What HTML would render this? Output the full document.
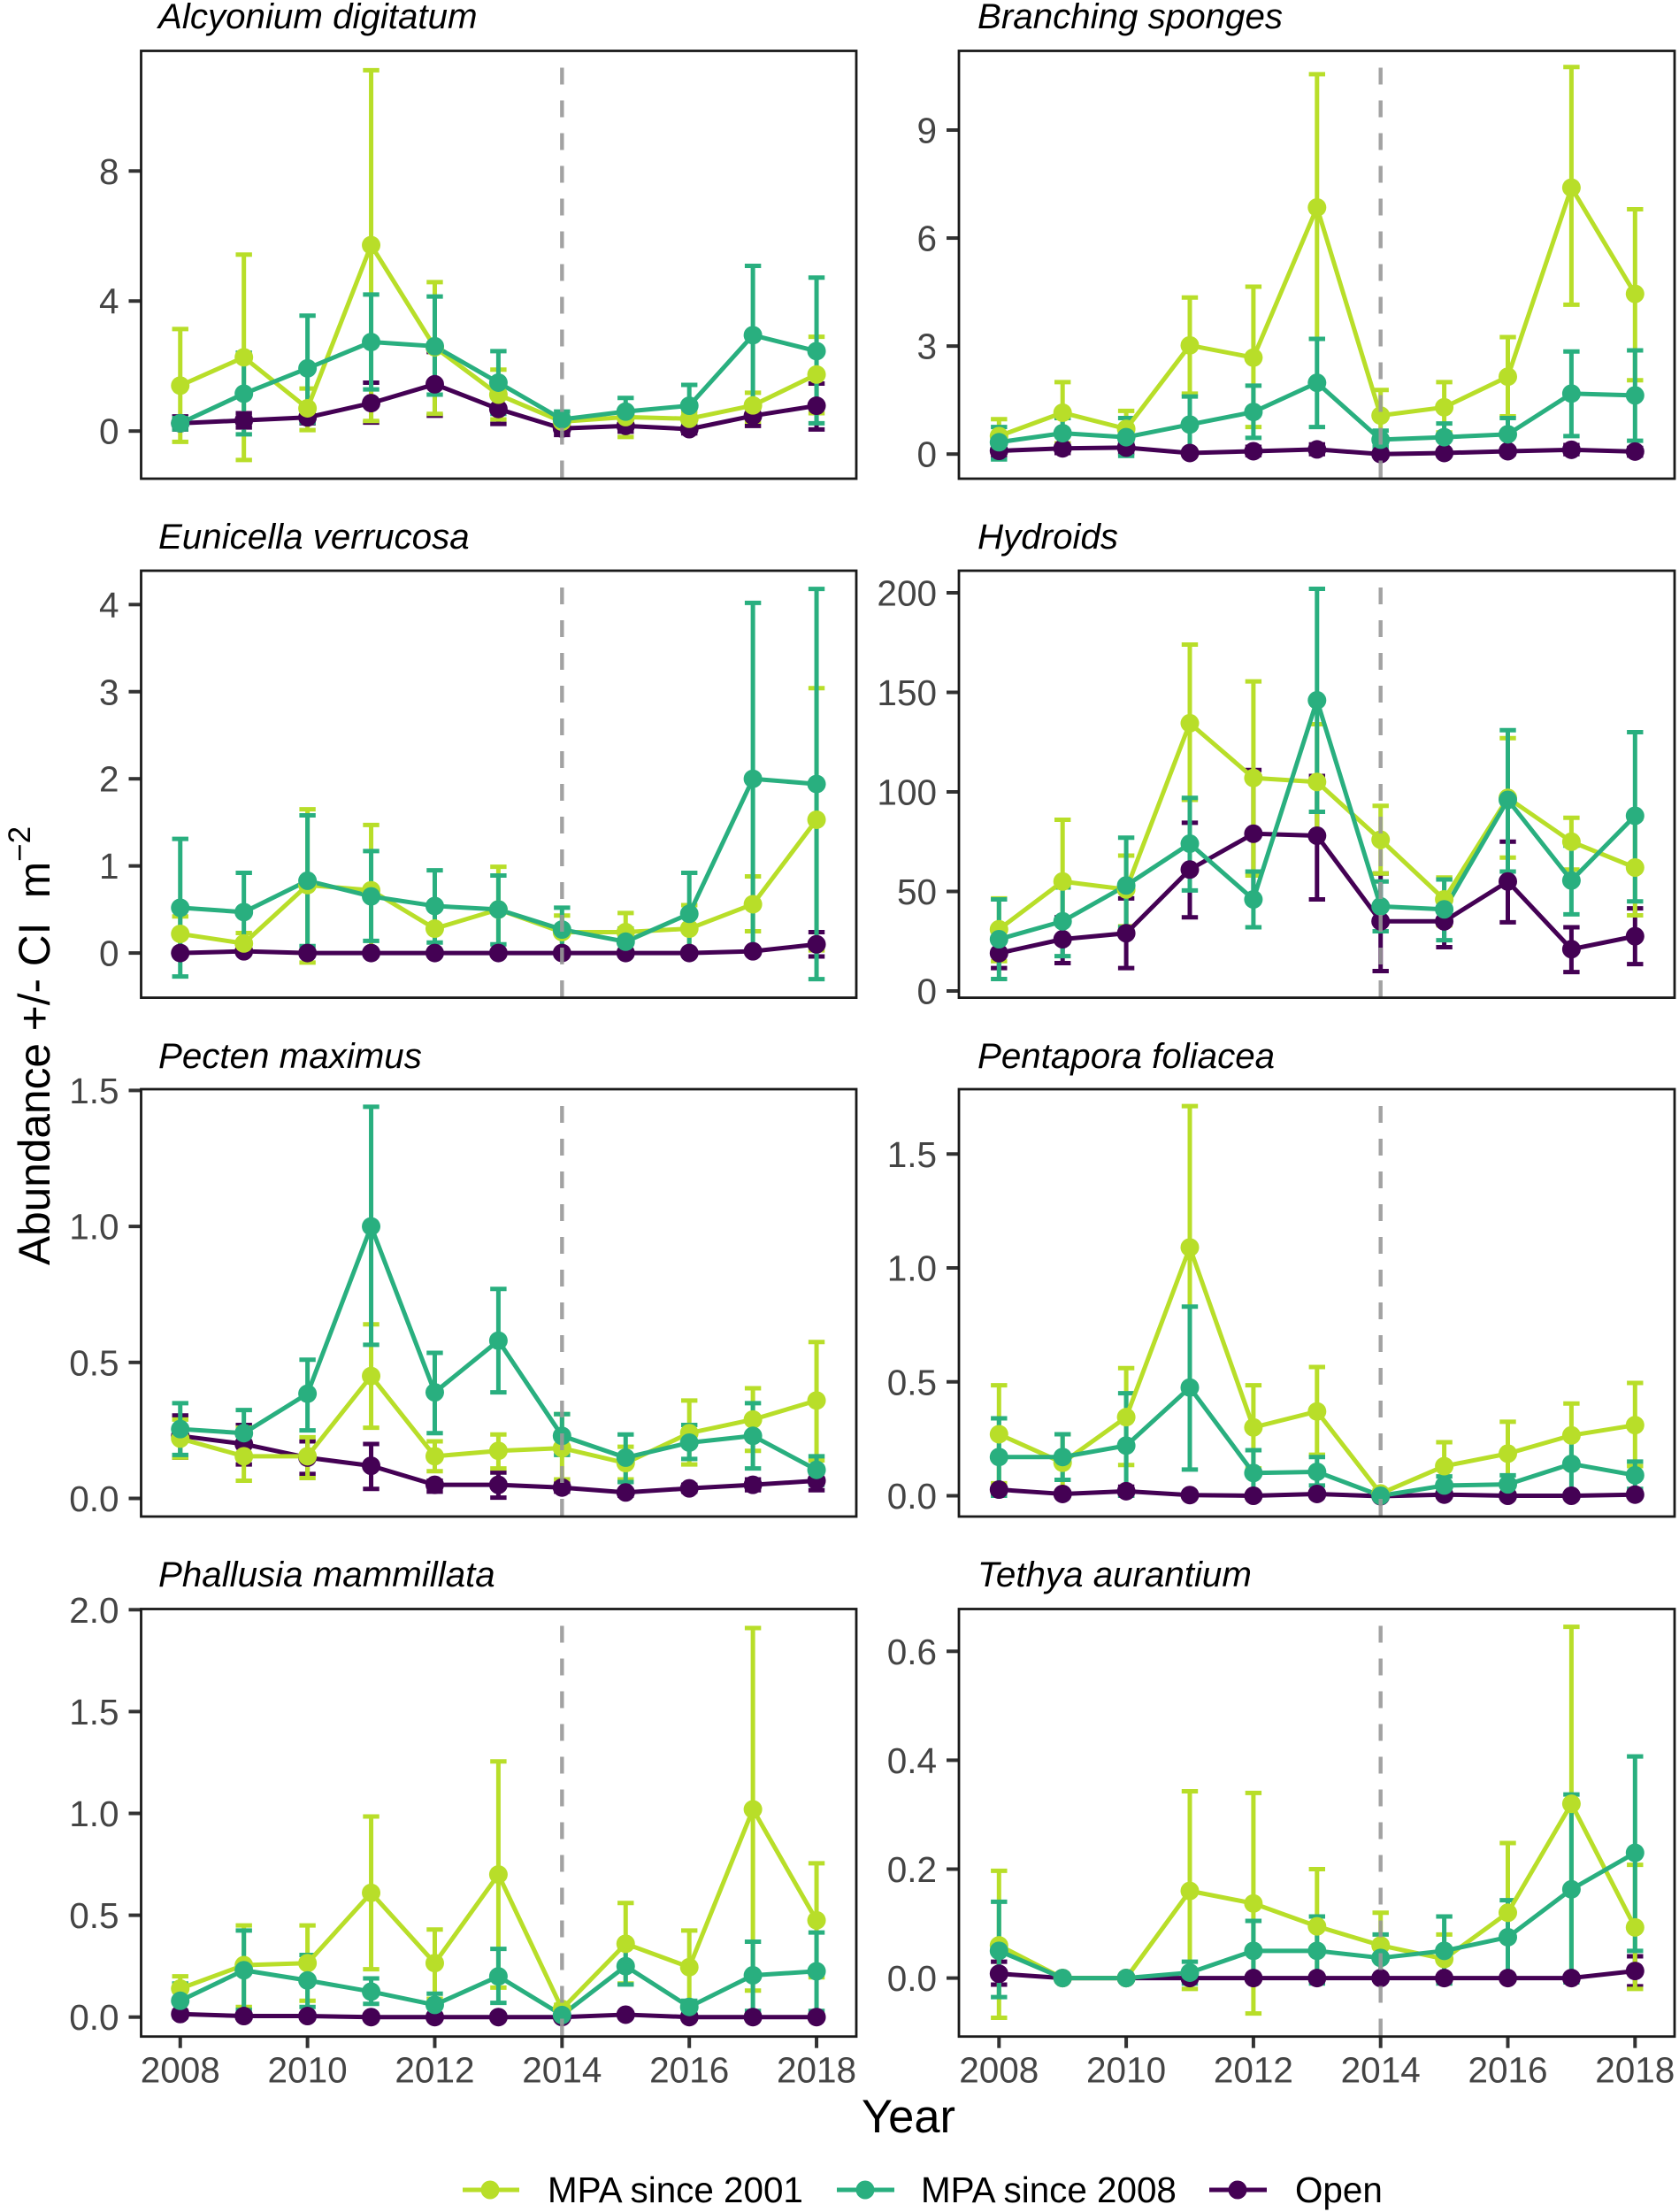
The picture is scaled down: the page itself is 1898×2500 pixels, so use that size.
<!DOCTYPE html>
<html lang="en">
<head>
<meta charset="utf-8">
<title>Abundance by year and protection status</title>
<style>
html,body{margin:0;padding:0;background:#fff;}
svg{display:block;font-family:"Liberation Sans",Arial,sans-serif;}
</style>
</head>
<body>
<svg id="chart" xmlns="http://www.w3.org/2000/svg" width="1898" height="2500" viewBox="0 0 1898 2500">
  <rect x="0" y="0" width="1898" height="2500" fill="#ffffff"/>
  <g id="panels"></g>
  <g font-style="italic" font-size="40.3" fill="#000000">
    <text x="179" y="32">Alcyonium digitatum</text>
    <text x="1105" y="32">Branching sponges</text>
    <text x="179" y="620">Eunicella verrucosa</text>
    <text x="1105" y="620">Hydroids</text>
    <text x="179" y="1207">Pecten maximus</text>
    <text x="1105" y="1207">Pentapora foliacea</text>
    <text x="179" y="1793">Phallusia mammillata</text>
    <text x="1105" y="1793">Tethya aurantium</text>
  </g>
  <text transform="translate(56,1430) rotate(-90)" font-size="49.6" fill="#000000">Abundance +/- CI&#160;&#160;m<tspan dy="-22" font-size="35">&#8722;2</tspan></text>
  <text x="1027" y="2410" text-anchor="middle" font-size="52.5" fill="#000000">Year</text>
  <g>
    <g>
      <line x1="523" y1="2475" x2="587" y2="2475" stroke="#B8DE29" stroke-width="5"/>
      <circle cx="554" cy="2475" r="10.5" fill="#B8DE29"/>
      <text x="619" y="2489" font-size="40.4" fill="#000000">MPA since 2001</text>
    </g>
    <g>
      <line x1="946" y1="2475" x2="1011" y2="2475" stroke="#29AF7F" stroke-width="5"/>
      <circle cx="978" cy="2475" r="10.5" fill="#29AF7F"/>
      <text x="1041" y="2489" font-size="40.4" fill="#000000">MPA since 2008</text>
    </g>
    <g>
      <line x1="1367" y1="2475" x2="1432" y2="2475" stroke="#440154" stroke-width="5"/>
      <circle cx="1399" cy="2475" r="10.5" fill="#440154"/>
      <text x="1464" y="2489" font-size="40.4" fill="#000000">Open</text>
    </g>
  </g>
</svg>
<script>
const years = [2008,2009,2010,2011,2012,2013,2014,2015,2016,2017,2018];
const xTickYears = [2008,2010,2012,2014,2016,2018];

// Alcyonium digitatum
const alcyoniumTicks = [0,4,8];
const alcyonium2001Mean = [1.40,2.27,0.70,5.72,2.58,1.12,0.29,0.43,0.38,0.79,1.74];
const alcyonium2001Hi = [3.14,5.43,1.31,11.1,4.58,1.89,0.45,0.60,0.60,1.18,2.90];
const alcyonium2001Lo = [-0.33,-0.89,0.03,0.31,0.53,0.36,0.08,-0.18,0.14,0.29,0.55];
const alcyonium2008Mean = [0.24,1.15,1.93,2.74,2.61,1.49,0.36,0.60,0.78,2.95,2.46];
const alcyonium2008Hi = [0.40,2.41,3.55,4.20,4.14,2.46,0.60,1.02,1.42,5.08,4.72];
const alcyonium2008Lo = [0.05,-0.10,0.26,1.28,1.12,0.53,0.16,0.19,0.19,0.82,0.24];
const alcyoniumOpenMean = [0.24,0.33,0.42,0.86,1.44,0.68,0.08,0.16,0.06,0.47,0.78];
const alcyoniumOpenHi = [0.45,0.55,0.62,1.49,2.43,1.12,0.24,0.24,0.19,0.71,1.46];
const alcyoniumOpenLo = [0.05,0.11,0.24,0.26,0.47,0.22,-0.12,-0.02,-0.07,0.16,0.05];

// Branching sponges
const spongesTicks = [0,3,6,9];
const sponges2001Mean = [0.50,1.15,0.70,3.02,2.68,6.85,1.07,1.30,2.15,7.40,4.45];
const sponges2001Hi = [0.97,2.00,1.20,4.35,4.65,10.55,1.78,2.00,3.25,10.75,6.80];
const sponges2001Lo = [0.05,0.30,0.20,1.68,0.75,3.20,0.35,0.60,1.05,4.15,2.05];
const sponges2008Mean = [0.33,0.58,0.47,0.82,1.17,1.98,0.40,0.47,0.55,1.68,1.63];
const sponges2008Hi = [0.75,1.00,1.00,1.60,1.90,3.20,0.65,0.85,1.00,2.85,2.88];
const sponges2008Lo = [-0.15,0.20,-0.05,0.05,0.45,0.75,0.20,0.10,0.15,0.50,0.37];
const spongesOpenMean = [0.09,0.16,0.18,0.03,0.08,0.13,0.00,0.03,0.08,0.12,0.07];
const spongesOpenHi = [0.25,0.30,0.30,0.08,0.20,0.27,0.03,0.10,0.15,0.25,0.17];
const spongesOpenLo = [-0.10,0.03,0.03,-0.03,-0.03,0.00,-0.03,-0.03,0.00,0.00,-0.04];

// Eunicella verrucosa
const eunicellaTicks = [0,1,2,3,4];
const eunicella2001Mean = [0.22,0.11,0.78,0.72,0.28,0.50,0.24,0.24,0.28,0.56,1.53];
const eunicella2001Hi = [0.42,0.23,1.65,1.47,0.55,0.99,0.43,0.46,0.55,0.88,3.04];
const eunicella2001Lo = [0.03,0.00,-0.11,0.00,0.01,0.01,0.03,0.03,0.00,0.25,0.03];
const eunicella2008Mean = [0.52,0.47,0.83,0.65,0.54,0.50,0.27,0.13,0.45,2.00,1.94];
const eunicella2008Hi = [1.31,0.92,1.58,1.17,0.95,0.89,0.52,0.28,0.92,4.02,4.18];
const eunicella2008Lo = [-0.27,0.00,0.08,0.14,0.12,0.10,0.02,0.02,-0.02,0.00,-0.30];
const eunicellaOpenMean = [0.00,0.02,0.00,0.00,0.00,0.00,0.00,0.00,0.00,0.02,0.10];
const eunicellaOpenHi = [0.02,0.03,0.01,0.01,0.01,0.01,0.01,0.01,0.01,0.03,0.24];
const eunicellaOpenLo = [-0.02,0.01,-0.01,-0.01,-0.01,-0.01,-0.01,-0.01,-0.01,0.00,-0.04];

// Hydroids
const hydroidsTicks = [0,50,100,150,200];
const hydroids2001Mean = [31,55,51,134.5,107,105,76,46,97,75,62];
const hydroids2001Hi = [46.5,86,68,174,155.5,134,93,57,127,87,86.5];
const hydroids2001Lo = [15,25,32.5,96,58,77,59,33,67,61,38];
const hydroids2008Mean = [26,35,53,74,46,146,42.5,41,96,55.5,88];
const hydroids2008Hi = [46,52,77,97,60,202,55,56,131,73,130];
const hydroids2008Lo = [6,17.5,32,50.5,32,90,30,25.5,60,38.5,45];
const hydroidsOpenMean = [19,26,29,61,79,78,35,35,55,21,27.5];
const hydroidsOpenHi = [25.5,37,46.5,84.5,111,108,59,48,75,32,41.5];
const hydroidsOpenLo = [11.5,14,11.5,37,46,46,10,22,34.5,9.5,13.5];

// Pecten maximus
const pectenTicks = [0,0.5,1,1.5];
const pecten2001Mean = [0.22,0.155,0.155,0.45,0.155,0.175,0.185,0.13,0.24,0.29,0.36];
const pecten2001Hi = [0.29,0.26,0.225,0.64,0.21,0.235,0.31,0.19,0.36,0.405,0.575];
const pecten2001Lo = [0.15,0.065,0.075,0.26,0.10,0.11,0.07,0.07,0.125,0.175,0.14];
const pecten2008Mean = [0.255,0.24,0.385,1.00,0.39,0.58,0.23,0.15,0.205,0.23,0.105];
const pecten2008Hi = [0.35,0.325,0.51,1.44,0.535,0.77,0.31,0.235,0.27,0.35,0.155];
const pecten2008Lo = [0.16,0.16,0.25,0.565,0.24,0.39,0.16,0.06,0.145,0.11,0.05];
const pectenOpenMean = [0.23,0.20,0.15,0.12,0.05,0.05,0.04,0.022,0.037,0.05,0.065];
const pectenOpenHi = [0.305,0.27,0.21,0.20,0.065,0.095,0.055,0.03,0.05,0.07,0.095];
const pectenOpenLo = [0.15,0.125,0.09,0.035,0.025,0.003,0.025,0.01,0.025,0.03,0.03];

// Pentapora foliacea
const pentaporaTicks = [0,0.5,1,1.5];
const pentapora2001Mean = [0.27,0.145,0.345,1.09,0.30,0.37,0.01,0.13,0.185,0.265,0.31];
const pentapora2001Hi = [0.485,0.27,0.56,1.71,0.485,0.565,0.025,0.235,0.325,0.405,0.495];
const pentapora2001Lo = [0.055,0.02,0.135,0.48,0.12,0.18,0.00,0.035,0.05,0.125,0.13];
const pentapora2008Mean = [0.17,0.17,0.22,0.475,0.10,0.105,0.00,0.045,0.05,0.14,0.09];
const pentapora2008Hi = [0.34,0.27,0.45,0.83,0.20,0.17,0.00,0.085,0.09,0.27,0.15];
const pentapora2008Lo = [0.00,0.07,0.00,0.115,0.00,0.045,0.00,0.005,0.01,0.01,0.03];
const pentaporaOpenMean = [0.027,0.008,0.02,0.003,0.00,0.008,-0.002,0.005,0.00,0.00,0.005];
const pentaporaOpenHi = [0.035,0.015,0.04,0.008,0.003,0.015,0.00,0.01,0.002,0.002,0.012];
const pentaporaOpenLo = [0.01,0.001,0.00,0.00,-0.001,0.001,-0.003,0.00,-0.001,-0.001,0.00];

// Phallusia mammillata
const phallusiaTicks = [0,0.5,1,1.5,2];
const phallusia2001Mean = [0.14,0.255,0.265,0.61,0.265,0.70,0.04,0.36,0.245,1.02,0.475];
const phallusia2001Hi = [0.20,0.45,0.45,0.985,0.43,1.255,0.06,0.56,0.425,1.91,0.755];
const phallusia2001Lo = [0.08,0.05,0.08,0.235,0.09,0.145,0.01,0.165,0.06,0.13,0.195];
const phallusia2008Mean = [0.08,0.23,0.18,0.125,0.06,0.20,0.01,0.25,0.05,0.205,0.225];
const phallusia2008Hi = [0.165,0.425,0.305,0.19,0.115,0.335,0.03,0.345,0.08,0.37,0.415];
const phallusia2008Lo = [0.00,0.035,0.05,0.065,0.00,0.07,0.00,0.16,0.015,0.03,0.03];
const phallusiaOpenMean = [0.015,0.005,0.005,0.00,0.00,0.00,0.00,0.012,0.00,0.00,0.00];
const phallusiaOpenHi = [0.03,0.008,0.007,0.002,0.001,0.001,0.001,0.02,0.001,0.001,0.001];
const phallusiaOpenLo = [0.00,0.002,0.003,-0.001,-0.001,-0.001,-0.001,0.004,-0.001,-0.001,-0.001];

// Tethya aurantium
const tethyaTicks = [0,0.2,0.4,0.6];
const tethya2001Mean = [0.06,0.00,0.00,0.16,0.137,0.095,0.06,0.035,0.12,0.32,0.093];
const tethya2001Hi = [0.197,0.00,0.00,0.343,0.34,0.20,0.12,0.08,0.248,0.645,0.208];
const tethya2001Lo = [-0.073,0.00,0.00,-0.02,-0.065,-0.005,0.00,-0.005,-0.002,-0.005,-0.02];
const tethya2008Mean = [0.05,0.00,0.00,0.01,0.05,0.05,0.037,0.05,0.075,0.163,0.23];
const tethya2008Hi = [0.14,0.00,0.00,0.03,0.105,0.113,0.08,0.113,0.143,0.337,0.407];
const tethya2008Lo = [-0.035,0.00,0.00,-0.01,0.00,-0.01,0.00,-0.01,0.00,-0.008,0.05];
const tethyaOpenMean = [0.008,0.00,0.00,0.00,0.00,0.00,0.00,0.00,0.00,0.00,0.013];
const tethyaOpenHi = [0.03,0.00,0.00,0.00,0.00,0.00,0.00,0.00,0.00,0.00,0.04];
const tethyaOpenLo = [-0.012,0.00,0.00,0.00,0.00,0.00,0.00,0.00,0.00,0.00,-0.015];

const COLOR_2001 = '#B8DE29';
const COLOR_2008 = '#29AF7F';
const COLOR_OPEN = '#440154';

function seriesTriple(slug, open, s2001, s2008) {
  return [
    {slug: slug + '-open', color: COLOR_OPEN, mean: open[0], hi: open[1], lo: open[2]},
    {slug: slug + '-mpa-2001', color: COLOR_2001, mean: s2001[0], hi: s2001[1], lo: s2001[2]},
    {slug: slug + '-mpa-2008', color: COLOR_2008, mean: s2008[0], hi: s2008[1], lo: s2008[2]}
  ];
}

const LEFT_COL = {left: 159.5, right: 968, x2008: 203.75, xStep: 71.93};
const RIGHT_COL = {left: 1084, right: 1893, x2008: 1129.3, xStep: 71.9};

const panels = [
  {slug:'alcyonium', col:LEFT_COL, top:57.5, bottom:541, zero:487.2, unit:36.74, ticks:alcyoniumTicks, digits:0, xAxis:false,
   series:seriesTriple('alcyonium',[alcyoniumOpenMean,alcyoniumOpenHi,alcyoniumOpenLo],[alcyonium2001Mean,alcyonium2001Hi,alcyonium2001Lo],[alcyonium2008Mean,alcyonium2008Hi,alcyonium2008Lo])},
  {slug:'sponges', col:RIGHT_COL, top:57.5, bottom:541, zero:513.2, unit:40.69, ticks:spongesTicks, digits:0, xAxis:false,
   series:seriesTriple('sponges',[spongesOpenMean,spongesOpenHi,spongesOpenLo],[sponges2001Mean,sponges2001Hi,sponges2001Lo],[sponges2008Mean,sponges2008Hi,sponges2008Lo])},
  {slug:'eunicella', col:LEFT_COL, top:645, bottom:1127.6, zero:1077.1, unit:98.45, ticks:eunicellaTicks, digits:0, xAxis:false,
   series:seriesTriple('eunicella',[eunicellaOpenMean,eunicellaOpenHi,eunicellaOpenLo],[eunicella2001Mean,eunicella2001Hi,eunicella2001Lo],[eunicella2008Mean,eunicella2008Hi,eunicella2008Lo])},
  {slug:'hydroids', col:RIGHT_COL, top:645, bottom:1127.6, zero:1120, unit:2.25, ticks:hydroidsTicks, digits:0, xAxis:false,
   series:seriesTriple('hydroids',[hydroidsOpenMean,hydroidsOpenHi,hydroidsOpenLo],[hydroids2001Mean,hydroids2001Hi,hydroids2001Lo],[hydroids2008Mean,hydroids2008Hi,hydroids2008Lo])},
  {slug:'pecten', col:LEFT_COL, top:1231, bottom:1714, zero:1693.5, unit:307.4, ticks:pectenTicks, digits:1, xAxis:false,
   series:seriesTriple('pecten',[pectenOpenMean,pectenOpenHi,pectenOpenLo],[pecten2001Mean,pecten2001Hi,pecten2001Lo],[pecten2008Mean,pecten2008Hi,pecten2008Lo])},
  {slug:'pentapora', col:RIGHT_COL, top:1231, bottom:1714, zero:1690.5, unit:257.5, ticks:pentaporaTicks, digits:1, xAxis:false,
   series:seriesTriple('pentapora',[pentaporaOpenMean,pentaporaOpenHi,pentaporaOpenLo],[pentapora2001Mean,pentapora2001Hi,pentapora2001Lo],[pentapora2008Mean,pentapora2008Hi,pentapora2008Lo])},
  {slug:'phallusia', col:LEFT_COL, top:1818.5, bottom:2301.7, zero:2279.7, unit:230.2, ticks:phallusiaTicks, digits:1, xAxis:true,
   series:seriesTriple('phallusia',[phallusiaOpenMean,phallusiaOpenHi,phallusiaOpenLo],[phallusia2001Mean,phallusia2001Hi,phallusia2001Lo],[phallusia2008Mean,phallusia2008Hi,phallusia2008Lo])},
  {slug:'tethya', col:RIGHT_COL, top:1818.5, bottom:2301.7, zero:2235.6, unit:615.5, ticks:tethyaTicks, digits:1, xAxis:true,
   series:seriesTriple('tethya',[tethyaOpenMean,tethyaOpenHi,tethyaOpenLo],[tethya2001Mean,tethya2001Hi,tethya2001Lo],[tethya2008Mean,tethya2008Hi,tethya2008Lo])}
];

const NS = 'http://www.w3.org/2000/svg';
const root = document.getElementById('panels');

function make(tag, attrs, parent) {
  const el = document.createElementNS(NS, tag);
  for (const k in attrs) el.setAttribute(k, attrs[k]);
  parent.appendChild(el);
  return el;
}

panels.forEach(function (p) {
  const xScale = function (year) { return p.col.x2008 + (year - years[0]) * p.col.xStep; };
  const yScale = function (value) { return p.zero - value * p.unit; };

  const group = make('g', {}, root);
  
  

  const bg = make('rect', {x: p.col.left, y: p.top, width: p.col.right - p.col.left, height: p.bottom - p.top, fill: '#ffffff'}, group);
  
  

  // y axis
  p.ticks.forEach(function (t) {
    const tick = make('line', {x1: p.col.left - 14, x2: p.col.left, y1: yScale(t), y2: yScale(t), stroke: '#333333', 'stroke-width': 4}, group);
    
    
    const label = make('text', {x: p.col.left - 25, y: yScale(t) + 14.5, 'text-anchor': 'end', 'font-size': 40.5, fill: '#444444'}, group);
    
    
    label.textContent = t.toFixed(p.digits);
  });

  // x axis
  if (p.xAxis) {
    xTickYears.forEach(function (yr) {
      const tick = make('line', {x1: xScale(yr), x2: xScale(yr), y1: p.bottom, y2: p.bottom + 13, stroke: '#333333', 'stroke-width': 4}, group);
      
      
      const label = make('text', {x: xScale(yr), y: p.bottom + 52, 'text-anchor': 'middle', 'font-size': 40.5, fill: '#444444'}, group);
      
      
      label.textContent = String(yr);
    });
  }

  // error bars
  p.series.forEach(function (s) {
    const ebGroup = make('g', {stroke: s.color, 'stroke-width': 5, fill: 'none'}, group);
    
    
    years.forEach(function (yr, i) {
      const x = xScale(yr);
      const yLo = yScale(s.lo[i]);
      const yHi = yScale(s.hi[i]);
      const bar = make('path', {d: 'M' + (x - 9.2) + ' ' + yHi + 'H' + (x + 9.2) + 'M' + x + ' ' + yHi + 'V' + yLo + 'M' + (x - 9.2) + ' ' + yLo + 'H' + (x + 9.2)}, ebGroup);
      
      
    });
  });

  // lines
  p.series.forEach(function (s) {
    const pts = years.map(function (yr, i) { return xScale(yr) + ',' + yScale(s.mean[i]); }).join(' ');
    const line = make('polyline', {points: pts, fill: 'none', stroke: s.color, 'stroke-width': 5, 'stroke-linejoin': 'round'}, group);
    
    
  });

  // points
  p.series.forEach(function (s) {
    const ptGroup = make('g', {fill: s.color}, group);
    
    
    years.forEach(function (yr, i) {
      const dot = make('circle', {cx: xScale(yr), cy: yScale(s.mean[i]), r: 10.5}, ptGroup);
      
      
    });
  });

  // 2014 reference line
  const vline = make('line', {x1: xScale(2014), x2: xScale(2014), y1: p.top + 19, y2: p.bottom, stroke: '#999999', 'stroke-width': 4.4, 'stroke-dasharray': '19 18', opacity: 0.9}, group);
  
  

  // border
  const border = make('rect', {x: p.col.left, y: p.top, width: p.col.right - p.col.left, height: p.bottom - p.top, fill: 'none', stroke: '#1a1a1a', 'stroke-width': 2.8}, group);
  
  
});
</script>
</body>
</html>
